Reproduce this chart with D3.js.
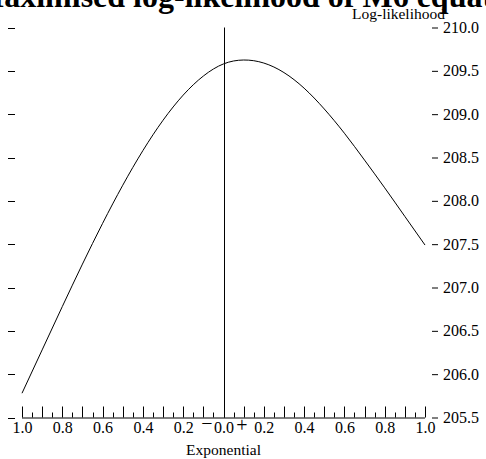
<!DOCTYPE html>
<html>
<head>
<meta charset="utf-8">
<script src="https://cdn.jsdelivr.net/npm/d3@7"></script>
<style>
  body { margin: 0; background: #fff; }
  text { font-family: "Liberation Serif", "DejaVu Serif", serif; fill: #000; }
</style>
</head>
<body>
<svg id="chart" width="486" height="459"></svg>
<script>
// exponent (negative side shown left of 0) and log-likelihood
var exponents = [-1.0, -0.9, -0.8, -0.7, -0.6, -0.5, -0.4, -0.3, -0.2, -0.1, 0.0,
                 0.1, 0.2, 0.3, 0.4, 0.5, 0.6, 0.7, 0.8, 0.9, 1.0];
var logLik = [205.78, 206.28, 206.78, 207.27, 207.74, 208.18, 208.58, 208.93, 209.22, 209.44, 209.58,
              209.625, 209.59, 209.48, 209.30, 209.06, 208.78, 208.47, 208.15, 207.82, 207.49];
var yTicks = [205.5, 206.0, 206.5, 207.0, 207.5, 208.0, 208.5, 209.0, 209.5, 210.0];
var xLabelTicks = [-1.0, -0.8, -0.6, -0.4, -0.2, 0.0, 0.2, 0.4, 0.6, 0.8, 1.0];
var xMajorTicks = d3.range(-10, 11).map(function (i) { return i / 10; });
var xMinorTicks = d3.range(-10, 10).map(function (i) { return (i + 0.5) / 10; });

var svg = d3.select("#chart");
var x = d3.scaleLinear().domain([-1, 1]).range([22, 425]);
var y = d3.scaleLinear().domain([205.5, 210]).range([417.5, 27.5]);

// title (runs off both edges)
svg.append("text")
    .attr("x", -26)
    .attr("y", 7)
    .style("font-size", "32px")
    .style("font-weight", "bold")
    .text("Maximised log-likelihood of M6 equations");

// bottom axis: tall ticks every 0.1, short ones between
var xAxis = d3.axisBottom(x)
    .tickValues(xLabelTicks)
    .tickSize(0)
    .tickPadding(4)
    .tickFormat(function (d) { return d3.format(".1f")(Math.abs(d)); });
var gx = svg.append("g")
    .attr("transform", "translate(0," + y(205.5) + ")")
    .call(xAxis);
gx.select(".domain").attr("stroke", "#000").attr("d", "M" + x(-1) + ",0.5H" + x(1));
gx.selectAll("text").style("font-family", "Liberation Serif").style("font-size", "16px");

gx.selectAll(".major").data(xMajorTicks).enter().append("line")
    .attr("x1", function (d) { return Math.round(x(d)) + 0.5; })
    .attr("x2", function (d) { return Math.round(x(d)) + 0.5; })
    .attr("y1", 0).attr("y2", -11)
    .attr("stroke", "#000");
gx.selectAll(".minor").data(xMinorTicks).enter().append("line")
    .attr("x1", function (d) { return Math.round(x(d)) + 0.5; })
    .attr("x2", function (d) { return Math.round(x(d)) + 0.5; })
    .attr("y1", 0).attr("y2", -5)
    .attr("stroke", "#000");

// signs either side of zero
svg.append("text").attr("x", 207).attr("y", 430)
    .attr("text-anchor", "middle").style("font-size", "20px").text("\u2212");
svg.append("text").attr("x", 242).attr("y", 432)
    .attr("text-anchor", "middle").style("font-size", "20px").text("+");

svg.append("text")
    .attr("x", x(0))
    .attr("y", 455)
    .attr("text-anchor", "middle")
    .style("font-size", "15.5px")
    .text("Exponential");

// right axis with labels, bare ticks on the left
var yAxis = d3.axisRight(y)
    .tickValues(yTicks)
    .tickSize(6)
    .tickPadding(5)
    .tickFormat(d3.format(".1f"));
var gy = svg.append("g")
    .attr("transform", "translate(432,0)")
    .call(yAxis);
gy.select(".domain").remove();
gy.selectAll("text").style("font-family", "Liberation Serif").style("font-size", "16px");

svg.selectAll(".lefttick").data(yTicks).enter().append("line")
    .attr("x1", 8).attr("x2", 15)
    .attr("y1", function (d) { return Math.round(y(d)) + 0.5; })
    .attr("y2", function (d) { return Math.round(y(d)) + 0.5; })
    .attr("stroke", "#000");

svg.append("text")
    .attr("x", 445)
    .attr("y", 19)
    .attr("text-anchor", "end")
    .style("font-size", "15.5px")
    .text("Log-likelihood");

// vertical line at zero
svg.append("line")
    .attr("x1", Math.round(x(0)) + 0.5).attr("x2", Math.round(x(0)) + 0.5)
    .attr("y1", y(210)).attr("y2", y(205.5))
    .attr("stroke", "#000");

// the curve
var line = d3.line()
    .x(function (d, i) { return x(exponents[i]); })
    .y(function (d) { return y(d); })
    .curve(d3.curveNatural);
svg.append("path")
    .datum(logLik)
    .attr("d", line)
    .attr("fill", "none")
    .attr("stroke", "#000")
    .attr("stroke-width", 1);
</script>
</body>
</html>
